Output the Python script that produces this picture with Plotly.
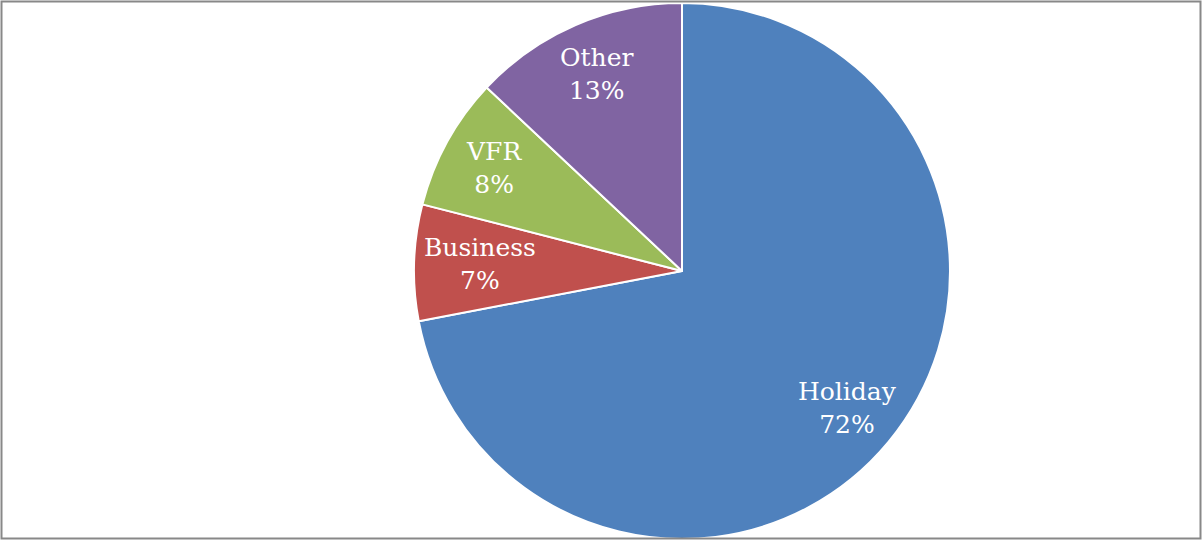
import math
import plotly.graph_objects as go

labels = ["Holiday", "Business", "VFR", "Other"]
values = [72, 7, 8, 13]
colors = ["#4F81BD", "#C0504D", "#9BBB59", "#8064A2"]

W, H = 1202, 540
cx, cy, r = 682, 271, 268
label_frac = 0.8
font_size = 25

fig = go.Figure(go.Pie(
    labels=labels,
    values=values,
    sort=False,
    direction="clockwise",
    rotation=0,
    marker=dict(colors=colors, line=dict(color="white", width=2)),
    textinfo="none",
    hoverinfo="label+percent",
    showlegend=False,
    domain=dict(x=[(cx - r) / W, (cx + r) / W],
                y=[(H - cy - r) / H, (H - cy + r) / H]),
))

# label placement derived from slice mid-angles, kept inside the pie
total = sum(values)
annotations = []
cum = 0
for lab, v in zip(labels, values):
    mid = (cum + v / 2) / total * 2 * math.pi
    cum += v
    px = cx + label_frac * r * math.sin(mid)
    py = cy - label_frac * r * math.cos(mid)
    half_w = len(lab) * 0.56 * font_size / 2
    px = max(px, cx - r + 10 + half_w)
    px = min(px, cx + r - 10 - half_w)
    annotations.append(dict(
        x=px / W, y=1 - py / H, xref="paper", yref="paper",
        text=f"{lab}<br>{round(v / total * 100)}%",
        showarrow=False, xanchor="center", yanchor="middle",
        font=dict(family="DejaVu Serif", size=font_size, color="white"),
    ))

fig.update_layout(
    width=W, height=H,
    margin=dict(l=0, r=0, t=0, b=0),
    paper_bgcolor="white",
    plot_bgcolor="white",
    annotations=annotations,
    shapes=[dict(type="rect", xref="paper", yref="paper",
                 x0=1.5 / W, x1=1 - 1.5 / W, y0=1.5 / H, y1=1 - 1.5 / H,
                 line=dict(color="#888888", width=2))],
)

fig.write_html("out.html")
